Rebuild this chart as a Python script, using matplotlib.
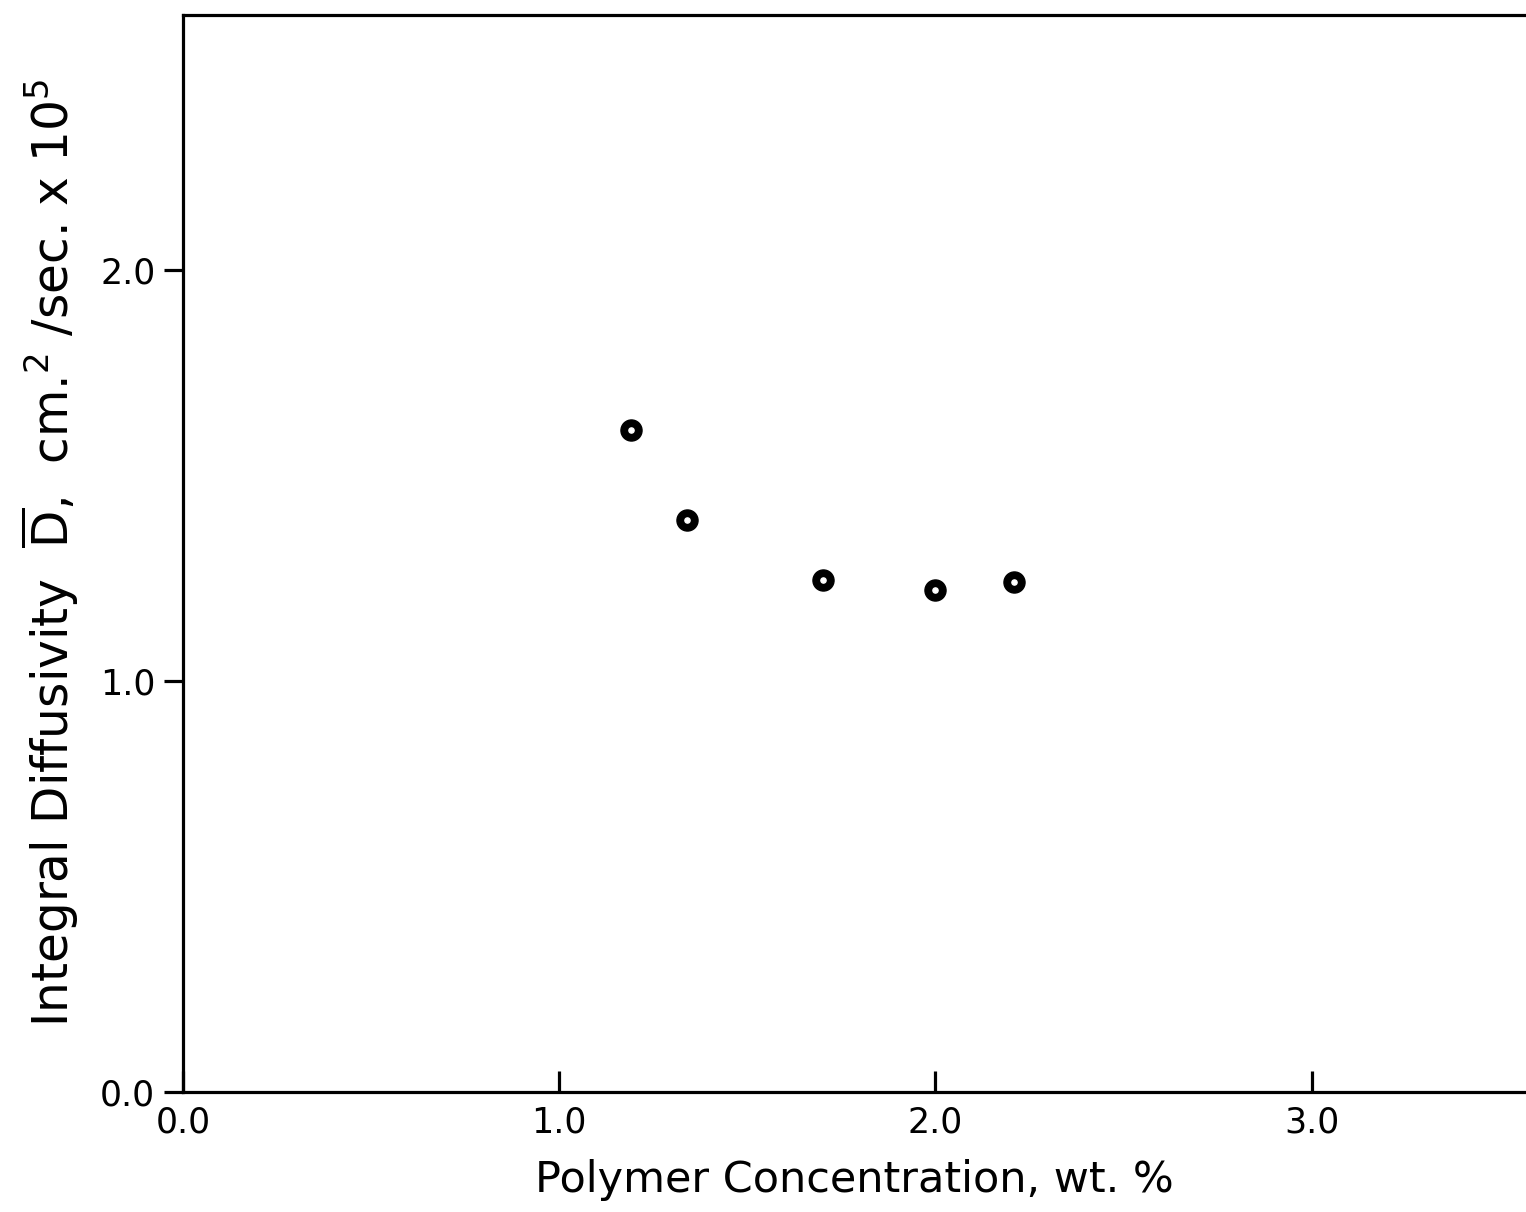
import numpy as np
import matplotlib.pyplot as plt

# data
conc = [1.19, 1.34, 1.70, 2.00, 2.21]          # polymer concentration, wt. %
diff = [1.61, 1.39, 1.245, 1.22, 1.24]         # integral diffusivity x 10^5
xticks = [0.0, 1.0, 2.0, 3.0]
yticks = [0.0, 1.0, 2.0]


def plot_diffusivity():
    fig = plt.figure(figsize=(15.26, 12.12), dpi=100)
    ax = fig.add_axes([0.12, 0.099, 0.88, 0.889])

    ax.scatter(conc, diff, s=230, c='black', zorder=3)
    ax.scatter(conc, diff, s=14, c='white', zorder=4)

    ax.set_xlim(0, 3.57)
    ax.set_ylim(0, 2.62)
    ax.set_xticks(xticks)
    ax.set_xticklabels(['%.1f' % t for t in xticks])
    ax.set_yticks(yticks)
    ax.set_yticklabels(['%.1f' % t for t in yticks])

    ax.spines['right'].set_visible(False)
    for s in ['left', 'top', 'bottom']:
        ax.spines[s].set_linewidth(2.3)

    ax.tick_params(axis='x', direction='in', length=15, width=2.3,
                   labelsize=25, pad=10)
    ax.tick_params(axis='y', direction='out', length=14, width=2.3,
                   labelsize=25, pad=6)

    ax.set_xlabel('Polymer Concentration, wt. %', fontsize=31, labelpad=14)
    ax.set_ylabel(r'Integral Diffusivity  $\overline{\mathrm{D}}$,  cm.$^2$ /sec. x 10$^5$',
                  fontsize=35, labelpad=14)

    fig.savefig('out.png', dpi=100)


if __name__ == '__main__':
    plot_diffusivity()
